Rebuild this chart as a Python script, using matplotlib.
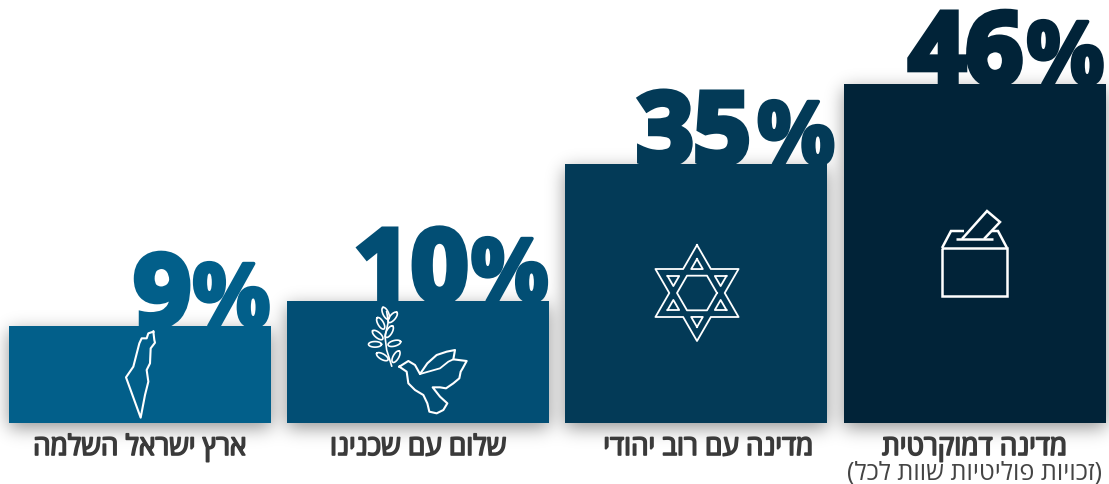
import matplotlib
matplotlib.use("Agg")
import matplotlib.pyplot as plt
import matplotlib.patheffects as pe
import numpy as np

# left to right, as in the picture
values = [9, 10, 35, 46]
# the drawn bars are not to scale for the two small ones, heights read in px
bar_heights = [97, 122, 259, 339]
bar_colors = ["#025f8a", "#024e74", "#033a57", "#012338"]
labels = ["ארץ ישראל השלמה", "שלום עם שכנינו", "מדינה עם רוב יהודי", "מדינה דמוקרטית"]
sublabel = "(זכויות פוליטיות שוות לכל)"

MIRROR = str.maketrans("()", ")(")
FONTS = ["Open Sans", "DejaVu Sans"]


def visual(s):
    # matplotlib lays text out left to right, so flip the Hebrew
    return s[::-1].translate(MIRROR)


W, H = 1109, 484
BASE = 423
PITCH = 278.33
X0 = 139.8
BAR_W = 262

# the texts are not placed evenly in the original, px nudges per bar
PCT_NUDGE = [3, 3, 11, 2]
NUM_NUDGE = [1, 0, 4, -2]
LABEL_NUDGE = [0, 0, 12, 0]

fig = plt.figure(figsize=(W / 100, H / 100), dpi=100)

# pixel layer under the bars for the blurred shadow
bg = fig.add_axes([0, 0, 1, 1], zorder=0)
bg.set_xlim(0, W)
bg.set_ylim(H, 0)
bg.axis("off")

ax = fig.add_axes([0, 0, 1, 1], zorder=1)
ax.set_xlim(-X0 / PITCH, (W - X0) / PITCH)
ax.set_ylim(BASE - H, BASE)
ax.axis("off")

# pixel overlay for the icons
ov = fig.add_axes([0, 0, 1, 1], zorder=3)
ov.set_xlim(0, W)
ov.set_ylim(H, 0)
ov.axis("off")

xs = np.arange(len(values))
width = BAR_W / PITCH

# shadow: bar mask, shifted down a little, gaussian blur
mask = np.zeros((H, W))
for x, h in zip(xs, bar_heights):
    left = int(round(X0 + x * PITCH - BAR_W / 2))
    mask[BASE - h + 5:BASE + 5, left:left + BAR_W] = 1
kx = np.arange(-30, 31)
kernel = np.exp(-kx**2 / (2 * 9.0**2))
kernel /= kernel.sum()
mask = np.apply_along_axis(lambda c: np.convolve(c, kernel, mode="same"), 0, mask)
mask = np.apply_along_axis(lambda r: np.convolve(r, kernel, mode="same"), 1, mask)
shadow = np.zeros((H, W, 4))
shadow[..., 3] = 0.42 * mask
bg.imshow(shadow, extent=(0, W, H, 0), aspect="auto", interpolation="bilinear")
bg.set_xlim(0, W)
bg.set_ylim(H, 0)

ax.bar(xs, bar_heights, width=width, color=bar_colors, linewidth=0, zorder=2)

for i, (x, v, h, c) in enumerate(zip(xs, values, bar_heights, bar_colors)):
    right = x + width / 2
    ax.text(right + (PCT_NUDGE[i] - 3) / PITCH, h, "%", ha="right", va="baseline", fontsize=63,
            fontfamily="Open Sans", fontweight="bold", color=c, zorder=4,
            path_effects=[pe.withStroke(linewidth=2.5, foreground=c, joinstyle="round")])
    ax.text(right + (NUM_NUDGE[i] - 81) / PITCH, h, str(v), ha="right", va="baseline", fontsize=72,
            fontfamily="Open Sans", fontweight="bold", color=c, zorder=4,
            path_effects=[pe.withStroke(linewidth=4.5, foreground=c, joinstyle="miter")])

LABEL_COLOR = "#3a3a3a"
for i, (x, lab) in enumerate(zip(xs, labels)):
    # no bold Hebrew in Open Sans here, so thicken the regular with a stroke
    ax.text(x + LABEL_NUDGE[i] / PITCH, -32, visual(lab), ha="center", va="baseline", fontsize=20,
            fontfamily=FONTS, color=LABEL_COLOR, zorder=4,
            path_effects=[pe.withStroke(linewidth=1.2, foreground=LABEL_COLOR)])
ax.text(xs[-1], -57, visual(sublabel), ha="center", va="baseline", fontsize=18.2,
        fontfamily=FONTS, color="#444444", zorder=4)

ICON = dict(color="white", lw=1.8, solid_joinstyle="miter", solid_capstyle="butt")
THIN = dict(color="white", lw=1.3, solid_joinstyle="round")


def zoomed(pts, ox, oy):
    # outlines traced at 3x, put back to figure pixels
    a = np.array(pts, dtype=float)
    return ox + a[:, 0] / 3, oy + a[:, 1] / 3


# ballot box
ov.plot([942, 1007, 1007, 942, 942], [248, 248, 296, 296, 248], **ICON)
ov.plot([942, 951, 964], [248, 231, 231], **ICON)
ov.plot([992, 998, 1007], [231, 231, 248], **ICON)
ov.plot([956, 993], [239, 239], **ICON)
ov.plot([962, 987, 1000, 984], [239, 211, 222, 239], **ICON)

# star of David: silhouette, inner hexagon, six small triangles
cx, cy = 697, 293
radii = np.tile([48, 48 / np.sqrt(3)], 7)[:13]
ang = np.radians(90 + 30 * np.arange(13))
ov.plot(cx + radii * np.cos(ang), cy - radii * np.sin(ang), **THIN)
hexa = np.radians(np.arange(0, 361, 60))
ov.plot(cx + 20 * np.cos(hexa), cy - 20 * np.sin(hexa), **THIN)
for a in range(30, 360, 60):
    px, py = cx + 27.3 * np.cos(np.radians(a)), cy - 27.3 * np.sin(np.radians(a))
    tri = np.radians(np.array([a, a + 120, a + 240, a]))
    ov.plot(px + 6.7 * np.cos(tri), py - 6.7 * np.sin(tri), **THIN)

# Israel outline
israel = [(160, 35), (163, 60), (165, 68), (152, 85), (150, 130), (140, 150), (145, 185), (135, 225),
          (122, 293), (78, 172), (100, 140), (118, 70), (125, 55), (140, 55), (145, 40), (160, 35)]
ov.plot(*zoomed(israel, 100, 320), color="white", lw=1.5, solid_joinstyle="round")

# dove and olive branch
dove = [(178, 200), (205, 183), (225, 195), (240, 222), (262, 190), (290, 165), (320, 155), (345, 150),
        (340, 178), (380, 183), (368, 205), (362, 215), (358, 235), (340, 250), (318, 265), (300, 262),
        (278, 262), (300, 290), (322, 310), (310, 330), (290, 340), (268, 335), (262, 310), (250, 285),
        (225, 270), (205, 250), (200, 215), (178, 200)]
ov.plot(*zoomed(dove, 340, 300), color="white", lw=1.5, solid_joinstyle="round")
wing = [(240, 222), (300, 205), (325, 185), (340, 178)]
ov.plot(*zoomed(wing, 340, 300), color="white", lw=1.3)
stem = [(155, 198), (140, 150), (135, 110), (145, 65), (140, 35)]
ov.plot(*zoomed(stem, 340, 300), color="white", lw=1.2)
leaves = [(137, 40, 115), (158, 52, 50), (122, 70, 120), (148, 95, 60), (113, 105, 140),
          (163, 130, 15), (105, 133, 0), (127, 170, 150), (168, 170, 60)]
t = np.linspace(0, 2 * np.pi, 40)
for zx, zy, a in leaves:
    ex, ey = 6.5 * np.cos(t), 2.8 * np.sin(t)
    ar = np.radians(a)
    ov.plot(340 + zx / 3 + ex * np.cos(ar) - ey * np.sin(ar),
            300 + zy / 3 - ex * np.sin(ar) - ey * np.cos(ar), color="white", lw=1.2)

fig.savefig("out.png", dpi=100)
